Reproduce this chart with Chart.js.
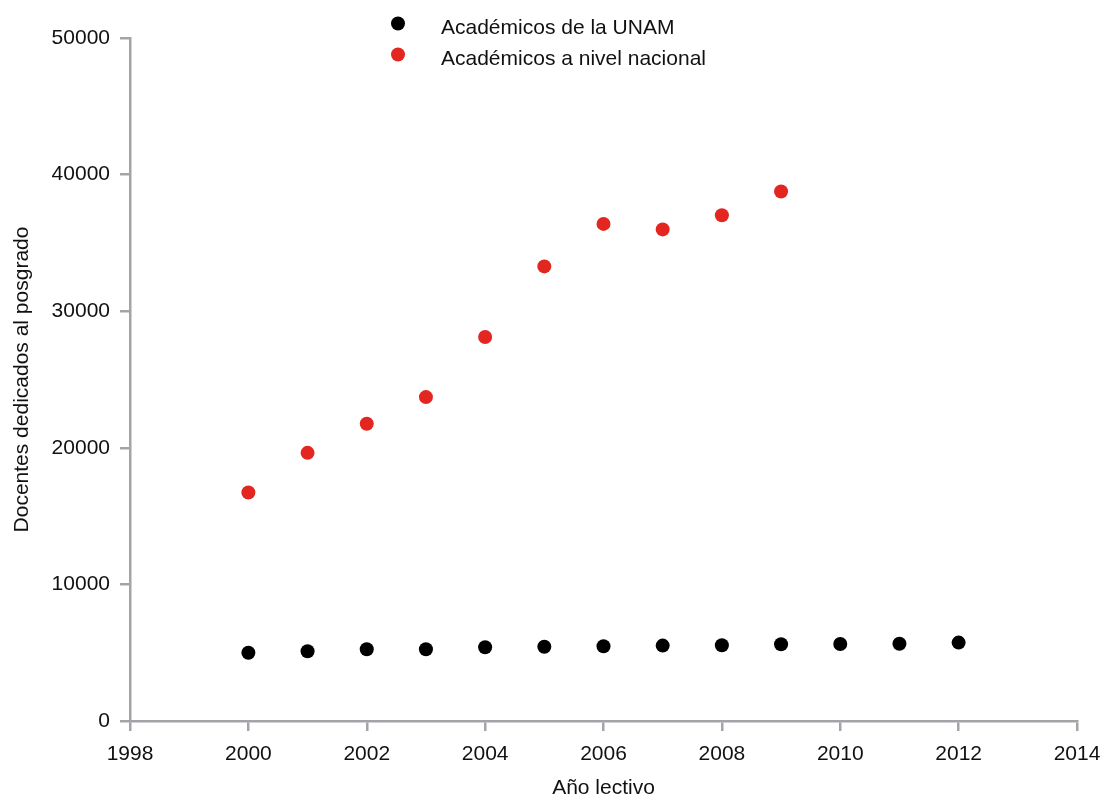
<!DOCTYPE html>
<html>
<head>
<meta charset="utf-8">
<script src="https://cdn.jsdelivr.net/npm/chart.js@4"></script>
<style>
  html, body { margin: 0; padding: 0; background: #fff; }
  #wrap { width: 1105px; height: 798px; }
</style>
</head>
<body>
<div id="wrap"><canvas id="grafica"></canvas></div>
<script>
// ===== Datos =====
const anios = [2000, 2001, 2002, 2003, 2004, 2005, 2006, 2007, 2008, 2009, 2010, 2011, 2012];
const academicosUnam = [5000, 5110, 5250, 5250, 5400, 5440, 5470, 5520, 5550, 5620, 5640, 5660, 5740];
const academicosNacional = [16730, 19630, 21760, 23710, 28110, 33280, 36390, 35990, 37020, 38760];
const etiquetas = ["Académicos de la UNAM", "Académicos a nivel nacional"];

const gris = '#a4a4a8';
const fuente = "'Liberation Sans', Arial, sans-serif";
const tam = 21;

// ===== Leyenda dibujada a mano arriba =====
const leyenda = {
    id: 'leyenda',
    afterDraw(chart) {
        const ctx = chart.ctx;
        ctx.save();
        ctx.font = tam + 'px ' + fuente;
        ctx.textBaseline = 'alphabetic';
        ctx.textAlign = 'left';
        chart.data.datasets.forEach((ds, i) => {
            const y = 23.5 + i * 31;
            ctx.beginPath();
            ctx.arc(398, y, 7, 0, Math.PI * 2);
            ctx.fillStyle = ds.backgroundColor;
            ctx.fill();
            ctx.fillStyle = '#111';
            ctx.fillText(ds.label, 441, y + 10);
        });
        ctx.restore();
    }
};

const puntos = arr => arr.map((v, i) => ({ x: anios[i], y: v }));

new Chart(document.getElementById('grafica'), {
    type: 'scatter',
    data: {
        datasets: [
            {
                label: etiquetas[0],
                data: puntos(academicosUnam),
                backgroundColor: '#000000',
                borderColor: '#000000',
                pointRadius: 7,
                borderWidth: 0
            },
            {
                label: etiquetas[1],
                data: puntos(academicosNacional),
                backgroundColor: '#e32620',
                borderColor: '#e32620',
                pointRadius: 7,
                borderWidth: 0
            }
        ]
    },
    plugins: [leyenda],
    options: {
        responsive: true,
        maintainAspectRatio: false,
        animation: false,
        layout: { padding: { top: 38, right: 28, left: 0, bottom: 0 } },
        plugins: {
            legend: { display: false },
            tooltip: { enabled: false }
        },
        scales: {
            x: {
                type: 'linear',
                min: 1998,
                max: 2014,
                ticks: {
                    stepSize: 2,
                    color: '#111',
                    font: { family: fuente, size: tam },
                    padding: 11,
                    callback: v => String(v)
                },
                grid: { drawOnChartArea: false, drawTicks: true, tickLength: 10, color: gris, lineWidth: 2.5 },
                border: { display: true, color: gris, width: 2.5 },
                title: {
                    display: true,
                    text: 'Año lectivo',
                    color: '#111',
                    font: { family: fuente, size: tam, lineHeight: 0.9 },
                    padding: { top: 7, bottom: 0 }
                },
                afterFit(scale) {
                    scale.height = 77;
                    scale.paddingLeft = 0;
                    scale.paddingRight = 0;
                }
            },
            y: {
                min: 0,
                max: 50000,
                ticks: {
                    stepSize: 10000,
                    color: '#111',
                    font: { family: fuente, size: tam },
                    padding: 10,
                    callback: v => String(v)
                },
                grid: { drawOnChartArea: false, drawTicks: true, tickLength: 10, color: gris, lineWidth: 2.5 },
                border: { display: true, color: gris, width: 2.5 },
                title: {
                    display: true,
                    text: 'Docentes dedicados al posgrado',
                    color: '#111',
                    font: { family: fuente, size: tam },
                    padding: { top: 10, bottom: 0 }
                },
                afterFit(scale) {
                    scale.width = 130;
                    scale.paddingTop = 0;
                    scale.paddingBottom = 0;
                }
            }
        }
    }
});
</script>
</body>
</html>
